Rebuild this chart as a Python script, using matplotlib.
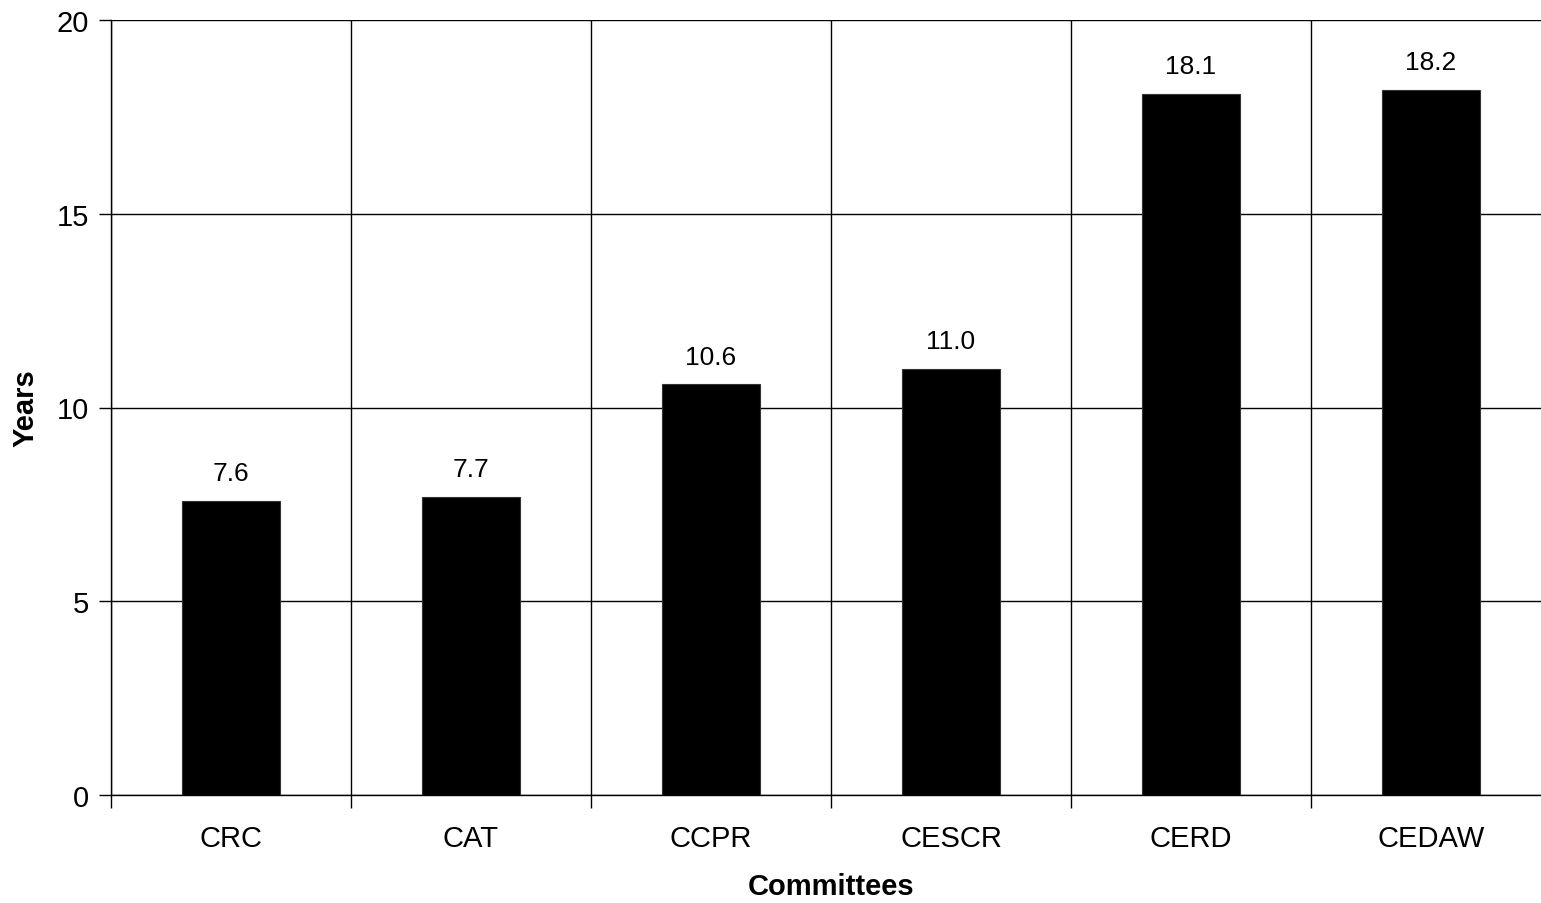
import matplotlib
matplotlib.use('Agg')
import matplotlib.pyplot as plt
import numpy as np

committees = ['CRC', 'CAT', 'CCPR', 'CESCR', 'CERD', 'CEDAW']
years = [7.6, 7.7, 10.6, 11.0, 18.1, 18.2]
yticks = [0, 5, 10, 15, 20]

plt.rcParams['font.family'] = ['Liberation Sans', 'DejaVu Sans']

W, H = 1541, 904
fig = plt.figure(figsize=(W / 100, H / 100), dpi=100)
# plot area runs past the right edge of the picture, as in the original
ax = fig.add_axes([111 / W, (H - 796) / H, 1440 / W, 775 / H])

x = np.arange(len(committees)) + 0.5
ax.bar(x, years, width=0.41, color='black', edgecolor='#333333', linewidth=0.8, zorder=3)

for xi, v in zip(x, years):
    ax.annotate(f'{v:.1f}', (xi, v), xytext=(0, 11), textcoords='offset points',
                ha='center', va='bottom', fontsize=19)

ax.set_xlim(0, len(committees))
ax.set_ylim(0, 20)
ax.set_yticks(yticks)
ax.set_xticks(np.arange(len(committees) + 1))
ax.set_xticklabels([])
ax.set_xticks(x, minor=True)
ax.set_xticklabels(committees, minor=True)

ax.tick_params(axis='y', length=9, width=1, pad=7, labelsize=21, direction='out')
ax.tick_params(axis='x', which='major', length=9, width=1, direction='out')
ax.tick_params(axis='x', which='minor', length=0, pad=21, labelsize=21)

ax.grid(True, which='major', color='black', linewidth=1, zorder=0)
for s in ['top', 'right']:
    ax.spines[s].set_visible(False)
ax.spines['left'].set_linewidth(1)
ax.spines['bottom'].set_linewidth(1)

ax.set_ylabel('Years', fontsize=21, fontweight='bold', labelpad=12)
ax.set_xlabel('Committees', fontsize=21, fontweight='bold', labelpad=14)

fig.savefig('out.png', dpi=100)
